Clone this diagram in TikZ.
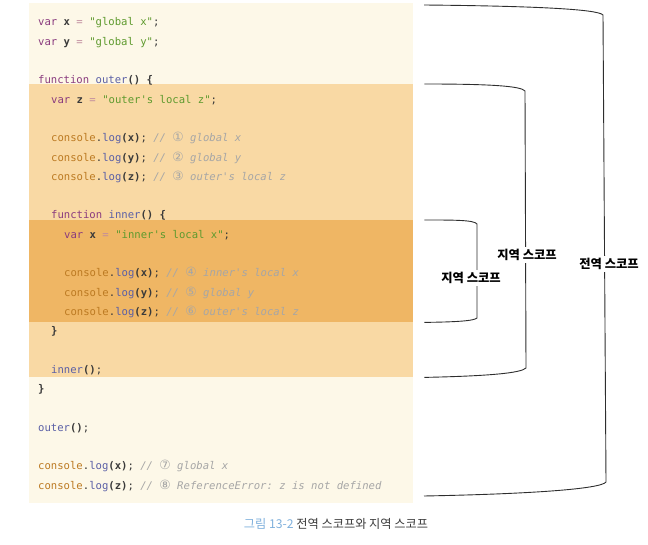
\documentclass[tikz,border=0pt]{standalone}
\usepackage{fontspec}
\setmonofont{DejaVu Sans Mono}
\newfontfamily\krfont{Noto Sans CJK KR}
\newfontfamily\circfont[Scale=1.2]{DejaVu Sans}

\definecolor{globalbg}{HTML}{FDF8E8}
\definecolor{outerbg}{HTML}{F9D9A4}
\definecolor{innerbg}{HTML}{EFB664}
\definecolor{kwpurple}{HTML}{8A3B7E}
\definecolor{strgreen}{HTML}{5E9A2E}
\definecolor{fnblue}{HTML}{5A5FA6}
\definecolor{objorange}{HTML}{BC7A22}
\definecolor{opgray}{HTML}{C08A9E}
\definecolor{cmtgray}{HTML}{A6A6A6}
\definecolor{codedark}{HTML}{3A3A3A}
\definecolor{linedark}{HTML}{2E2E2E}
\definecolor{capblue}{HTML}{7FB0DC}

\newcommand{\jskw}[1]{\textcolor{kwpurple}{#1}}
\newcommand{\jsstr}[1]{\textcolor{strgreen}{#1}}
\newcommand{\jsfn}[1]{\textcolor{fnblue}{#1}}
\newcommand{\jsop}[1]{\textcolor{opgray}{#1}}
\newcommand{\jscmt}[2]{\textcolor{cmtgray}{\itshape // {\circfont #1} #2}}
\newcommand{\jslog}[3]{\textcolor{objorange}{console}.\jsfn{log}\textbf{(#1)}; \jscmt{#2}{#3}}

\tikzset{
  codeline/.style={anchor=base west, inner sep=0pt, text=codedark,
    font=\ttfamily\fontsize{10.6}{12}\selectfont},
  block/.style={anchor=north west, inner sep=0pt, minimum width=384pt},
  scopeline/.style={draw=linedark, line width=0.9pt},
  scopelbl/.style={fill=white, inner sep=2pt, text=black,
    font=\krfont\bfseries\fontsize{12.3}{14}\selectfont}
}

\begin{document}
\begin{tikzpicture}[x=1pt,y=-1pt]
	\useasboundingbox (0,0) rectangle (648,545);

	\node[block, fill=globalbg, minimum height=500pt] (globalblk) at (29,3) {};
	\node[block, fill=outerbg, minimum height=293pt] (outerblk) at (29,84) {};
	\node[block, fill=innerbg, minimum height=102pt] (innerblk) at (29,220) {};

	\node[codeline] (l0) at (38,26) {\jskw{var} \textbf{x} \jsop{=} \jsstr{"global x"};};
	\node[codeline] (l1) at (38,45.3) {\jskw{var} \textbf{y} \jsop{=} \jsstr{"global y"};};
	\node[codeline] (l3) at (38,83.9) {\jskw{function} \jsfn{outer}\textbf{()} \textbf{\{}};
	\node[codeline] (l4) at (51,103.2) {\jskw{var} \textbf{z} \jsop{=} \jsstr{"outer's local z"};};
	\node[codeline] (l6) at (51,141.8) {\jslog{x}{①}{global x}};
	\node[codeline] (l7) at (51,161.1) {\jslog{y}{②}{global y}};
	\node[codeline] (l8) at (51,180.4) {\jslog{z}{③}{outer's local z}};
	\node[codeline] (l10) at (51,219) {\jskw{function} \jsfn{inner}\textbf{()} \textbf{\{}};
	\node[codeline] (l11) at (64,238.3) {\jskw{var} \textbf{x} \jsop{=} \jsstr{"inner's local x"};};
	\node[codeline] (l13) at (64,276.9) {\jslog{x}{④}{inner's local x}};
	\node[codeline] (l14) at (64,296.2) {\jslog{y}{⑤}{global y}};
	\node[codeline] (l15) at (64,315.5) {\jslog{z}{⑥}{outer's local z}};
	\node[codeline] (l16) at (51,334.8) {\textbf{\}}};
	\node[codeline] (l18) at (51,373.4) {\jsfn{inner}\textbf{()};};
	\node[codeline] (l19) at (38,392.7) {\textbf{\}}};
	\node[codeline] (l21) at (38,431.3) {\jsfn{outer}\textbf{()};};
	\node[codeline] (l23) at (38,469.9) {\jslog{x}{⑦}{global x}};
	\node[codeline] (l24) at (38,489.2) {\jslog{z}{⑧}{ReferenceError: z is not defined}};

	\coordinate (gtop) at (424,5);
	\coordinate (gbot) at (424,496);
	\draw[scopeline] (gtop) .. controls (530,6) and (598,9) .. (603,15) -- (606,482) .. controls (601,489) and (530,494) .. (gbot);
	\node[scopelbl] (globallbl) at (609,264) {전역 스코프};

	\coordinate (otop) at ([xshift=11pt]outerblk.north east);
	\coordinate (obot) at ([xshift=11pt]outerblk.south east);
	\draw[scopeline] (otop) .. controls (490,84) and (521,86) .. (525,91) -- (526,368) .. controls (521,373) and (490,376) .. (obot);
	\node[scopelbl] (outerlbl) at (527,255) {지역 스코프};

	\coordinate (itop) at ([xshift=11pt]innerblk.north east);
	\coordinate (ibot) at ([xshift=11pt]innerblk.south east);
	\draw[scopeline] (itop) .. controls (455,220) and (474,220) .. (477,224) -- (477,318) .. controls (474,321) and (455,322) .. (ibot);
	\node[scopelbl] (innerlbl) at (471,278) {지역 스코프};

	\node[anchor=base, font=\krfont\fontsize{12.2}{14}\selectfont, text=codedark] (caption) at (336,528)
		{\textcolor{capblue}{그림 13-2} 전역 스코프와 지역 스코프};
\end{tikzpicture}
\end{document}
